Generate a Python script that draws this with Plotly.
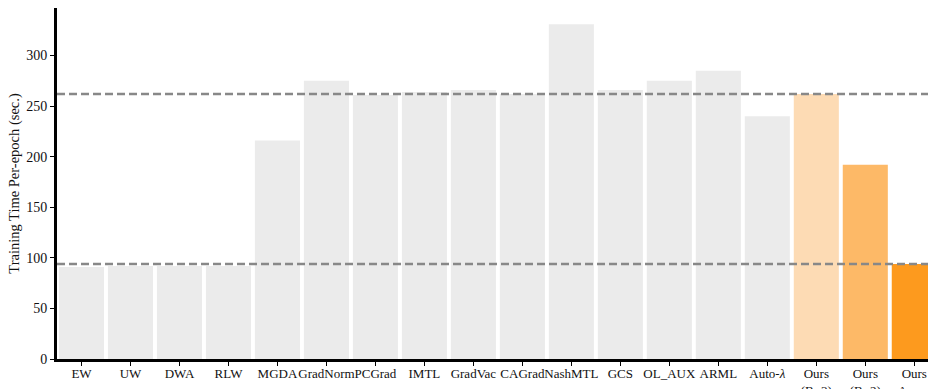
import plotly.graph_objects as go

methods = ["EW", "UW", "DWA", "RLW", "MGDA", "GradNorm", "PCGrad", "IMTL", "GradVac",
           "CAGrad", "NashMTL", "GCS", "OL_AUX", "ARML", "Auto-<i>λ</i>",
           "Ours<br>(B=3)", "Ours<br>(B=2)", "Ours<br>Async"]
epoch_time = [91, 92, 92, 92, 216, 275, 261, 264, 266,
              262, 331, 266, 275, 285, 240,
              262, 192, 94]
bar_colors = ["#ebebeb"] * 15 + ["#fddbb4", "#fdb967", "#fd9a1e"]

# reference levels: synchronous B=3 and asynchronous variants
ref_levels = [epoch_time[15], epoch_time[17]]

font_family = "Liberation Serif, Times New Roman, serif"

fig = go.Figure()
fig.add_trace(go.Bar(
    x=list(range(len(methods))),
    y=epoch_time,
    marker=dict(color=bar_colors, line=dict(width=0)),
    width=0.92,
    hoverinfo="y",
))

for lvl in ref_levels:
    fig.add_shape(type="line", xref="paper", x0=0, x1=1, yref="y", y0=lvl, y1=lvl,
                  line=dict(color="#888888", width=2.5, dash="8px,4px"), layer="above")

fig.update_layout(
    width=928, height=389,
    margin=dict(l=57, r=0, t=8, b=30),
    template="none",
    plot_bgcolor="white",
    paper_bgcolor="white",
    showlegend=False,
    font=dict(family=font_family, size=13, color="#111111"),
    xaxis=dict(
        range=[-0.5, 17.28],
        tickmode="array",
        tickvals=list(range(len(methods))),
        ticktext=methods,
        tickangle=0,
        ticklabeloverflow="allow",
        ticklabelstandoff=-4,
        showgrid=False, zeroline=False,
        showline=True, linecolor="black", linewidth=3,
        ticks="outside", ticklen=4, tickwidth=1, tickcolor="black",
        tickfont=dict(family=font_family, size=13),
        automargin=False,
    ),
    yaxis=dict(
        range=[0, 347],
        tickvals=[0, 50, 100, 150, 200, 250, 300],
        showgrid=False, zeroline=False,
        showline=True, linecolor="black", linewidth=3,
        ticks="outside", ticklen=4, tickwidth=1, tickcolor="black",
        tickfont=dict(family=font_family, size=14),
        title=dict(text="Training Time Per-epoch (sec.)", standoff=4,
                   font=dict(family=font_family, size=14.5)),
        automargin=False,
    ),
)

fig.write_html("out.html")
